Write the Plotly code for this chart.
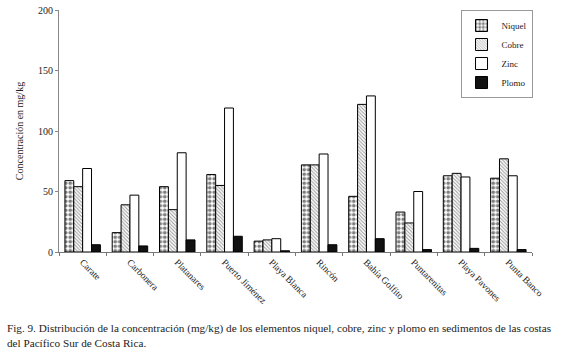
import plotly.graph_objects as go

categories = ["Carate", "Carbonera", "Platanares", "Puerto Jiménez", "Playa Blanca",
              "Rincón", "Bahía Golfito", "Puntarenitas", "Playa Pavones", "Punta Banco"]
niquel = [59, 16, 54, 64, 9, 72, 46, 33, 63, 61]
cobre = [54, 39, 35, 55, 10, 72, 122, 24, 65, 77]
zinc = [69, 47, 82, 119, 11, 81, 129, 50, 62, 63]
plomo = [6, 5, 10, 13, 1, 6, 11, 2, 3, 2]
y_ticks = [0, 50, 100, 150, 200]

FONT = "Liberation Serif, Times New Roman, serif"
line = dict(color="black", width=1)

fig = go.Figure()
fig.add_trace(go.Bar(name="Niquel", x=categories, y=niquel,
                     marker=dict(color="white", line=line,
                                 pattern=dict(shape=".", fgcolor="black", bgcolor="white",
                                              size=4.5, solidity=0.55))))
fig.add_trace(go.Bar(name="Cobre", x=categories, y=cobre,
                     marker=dict(color="white", line=line,
                                 pattern=dict(shape="\\", fgcolor="#333", bgcolor="white",
                                              size=2.5, solidity=0.4))))
fig.add_trace(go.Bar(name="Zinc", x=categories, y=zinc,
                     marker=dict(color="white", line=line)))
fig.add_trace(go.Bar(name="Plomo", x=categories, y=plomo,
                     marker=dict(color="#111", line=line)))

fig.update_layout(
    width=561, height=351,
    margin=dict(l=59, r=29, t=10, b=99, autoexpand=False),
    paper_bgcolor="white", plot_bgcolor="white",
    font=dict(family=FONT, size=10, color="#222"),
    barmode="group", bargap=0.25, bargroupgap=0,
    showlegend=True,
    legend=dict(x=0.925, y=1.0, xanchor="center", yanchor="top",
                bordercolor="#999", borderwidth=1, bgcolor="white",
                font=dict(family=FONT, size=9, color="#222"),
                itemwidth=30, tracegroupgap=0),
    annotations=[dict(
        text="Fig. 9. Distribución de la concentración (mg/kg) de los elementos niquel, cobre, zinc y plomo en sedimentos de las costas<br>del Pacífico Sur de Costa Rica.",
        xref="paper", yref="paper", x=-0.114, y=-0.28, xanchor="left", yanchor="top",
        align="left", showarrow=False, font=dict(family=FONT, size=11.2, color="#222"))],
)
fig.update_xaxes(showline=True, linecolor="#777", linewidth=1, ticks="outside",
                 tickson="boundaries", ticklen=3, tickcolor="#777", tickangle=45,
                 automargin=False,
                 tickfont=dict(family=FONT, size=9.5, color="#222"), showgrid=False)
fig.update_yaxes(range=[0, 200], tickvals=y_ticks, showline=True, linecolor="#888",
                 linewidth=1, ticks="outside", ticklen=3, tickcolor="#888",
                 showgrid=False, zeroline=False, automargin=False,
                 title=dict(text="Concentración en mg/kg", standoff=12,
                            font=dict(family=FONT, size=10, color="#222")),
                 tickfont=dict(family=FONT, size=10, color="#222"))

fig.write_html("out.html", config={"displayModeBar": False},
               post_script="document.body.style.margin='0';document.body.style.padding='0';")
